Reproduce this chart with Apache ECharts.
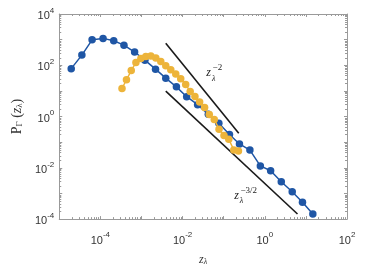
<!DOCTYPE html>
<html><head><meta charset="utf-8">
<script src="https://cdn.jsdelivr.net/npm/echarts@6/dist/echarts.min.js"></script>
<style>html,body{margin:0;padding:0;background:#fff}#c{width:374px;height:271px}</style>
</head><body><div id="c"></div>
<script>
// ---- data (real values, log-log plot) ----
const blueX = [1.954e-5, 3.548e-5, 6.295e-5, 1.164e-4, 2.113e-4, 3.750e-4, 6.808e-4, 1.211e-3, 2.198e-3, 3.899e-3, 7.079e-3, 1.259e-2, 2.323e-2, 4.227e-2, 7.621e-2, 0.1384, 0.2421, 0.4345, 0.7798, 1.387, 2.518, 4.645, 8.260, 14.76];
const blueY = [73.8, 249, 982, 1119, 901, 610, 329, 158, 70.6, 31.5, 14.4, 5.94, 2.91, 1.22, 0.544, 0.200, 0.0855, 0.0491, 0.01189, 0.00771, 0.00288, 0.00117, 4.57e-4, 1.58e-4];
const yellowX = [3.36e-4, 4.32e-4, 5.64e-4, 7.33e-4, 9.68e-4, 1.277e-3, 1.690e-3, 2.234e-3, 2.951e-3, 3.899e-3, 5.164e-3, 6.823e-3, 9.016e-3, 1.191e-2, 1.531e-2, 2.000e-2, 2.600e-2, 3.436e-2, 4.467e-2, 5.902e-2, 7.709e-2, 0.1019, 0.1330, 0.1762, 0.2286];
const yellowY = [12.4, 27.2, 62.0, 129.7, 183.7, 218.8, 228.2, 191.9, 141.6, 95.7, 67.6, 45.7, 29.6, 17.6, 9.57, 6.04, 3.68, 2.24, 1.19, 0.771, 0.323, 0.184, 0.130, 0.0499, 0.0457];
const refMinus2X = [3.899e-3, 0.2328];
const refMinus2Y = [719, 0.2223];
const refMinus32X = [3.899e-3, 6.25];
const refMinus32Y = [9.82, 1.585e-4];
const noteX = [0.0430, 0.2047];
const noteY = [49.9, 8.41e-4];
const noteExp = ['\u22122', '\u22123/2'];
const xMinExp = -5, xMaxExp = 2;
const yMinExp = -4, yMaxExp = 4;
const xLabelExps = [-4, -2, 0, 2];
const yLabelExps = [-4, -2, 0, 2, 4];

const L = Math.log10;
const toPts = (xs, ys) => xs.map((x, i) => [L(x), L(ys[i])]);

const AX = '#9a9a9a', TXT = '#333';
const BLUE = '#1f56a5', YEL = '#edb43a';

function expLabel(list) {
  return v => {
    const e = Math.round(v);
    return list.includes(e) ? '{b|10}{e|' + e + '}' : '';
  };
}
const richLab = {
  b: { fontSize: 11, fontFamily: 'Liberation Sans', color: TXT, lineHeight: 15, verticalAlign: 'bottom' },
  e: { fontSize: 8, fontFamily: 'Liberation Sans', color: TXT, lineHeight: 8, verticalAlign: 'top' }
};

const minorX = [], minorY = [];
for (let d = xMinExp; d < xMaxExp; d++) for (let k = 2; k <= 9; k++) minorX.push([L(k) + d, yMinExp]);
for (let d = yMinExp; d < yMaxExp; d++) for (let k = 2; k <= 9; k++) minorY.push([xMinExp, L(k) + d]);

function tick(x1, y1, x2, y2) {
  return { type: 'line', shape: { x1, y1, x2, y2 }, style: { stroke: AX, lineWidth: 1 } };
}

const axisCommon = {
  type: 'value', splitLine: { show: false },
  axisLine: { show: true, onZero: false, lineStyle: { color: AX, width: 1 } },
  axisTick: { show: true, inside: true, length: 3, lineStyle: { color: AX } }
};

const chart = echarts.init(document.getElementById('c'), null, { renderer: 'canvas' });
const option = {
  animation: false,
  backgroundColor: '#fff',
  grid: { left: 58, right: 27, top: 14, bottom: 45, containLabel: false },
  xAxis: [
    Object.assign({}, axisCommon, {
      min: xMinExp, max: xMaxExp, interval: 1, position: 'bottom',
      axisLabel: { formatter: expLabel(xLabelExps), margin: 12, rich: richLab, color: TXT },
      name: '{i|z}{s|\u03bb}', nameLocation: 'middle', nameGap: 25,
      nameTextStyle: { rich: {
        i: { fontSize: 12, fontStyle: 'italic', fontFamily: 'Liberation Serif', color: TXT, lineHeight: 12, verticalAlign: 'top' },
        s: { fontSize: 8, fontStyle: 'italic', fontFamily: 'Liberation Serif', color: TXT, lineHeight: 8, padding: [7, 0, 0, 0], verticalAlign: 'bottom' }
      } }
    }),
    Object.assign({}, axisCommon, {
      min: xMinExp, max: xMaxExp, interval: 1, position: 'top', axisLabel: { show: false }
    })
  ],
  yAxis: [
    Object.assign({}, axisCommon, {
      min: yMinExp, max: yMaxExp, interval: 1, position: 'left',
      axisLabel: { formatter: expLabel(yLabelExps), margin: 5, rich: richLab, color: TXT },
      name: '{r|P}{s|\u0393}{r| (}{i|z}{s|\u03bb}{r|)}', nameLocation: 'middle', nameGap: 32, nameRotate: 90,
      nameTextStyle: { rich: {
        r: { fontSize: 14, fontFamily: 'Liberation Serif', color: TXT, lineHeight: 14, verticalAlign: 'top' },
        i: { fontSize: 14, fontStyle: 'italic', fontFamily: 'Liberation Serif', color: TXT, lineHeight: 14, verticalAlign: 'top' },
        s: { fontSize: 9, fontFamily: 'Liberation Serif', color: TXT, lineHeight: 9, padding: [7, 0, 0, 0], verticalAlign: 'bottom' }
      } }
    }),
    Object.assign({}, axisCommon, {
      min: yMinExp, max: yMaxExp, interval: 1, position: 'right', axisLabel: { show: false }
    })
  ],
  series: [
    { type: 'custom', silent: true, z: 1, data: minorX, encode: { x: 0, y: 1 },
      renderItem: (p, api) => {
        const v = api.value(0);
        const b = api.coord([v, yMinExp]), t = api.coord([v, yMaxExp]);
        const x = Math.round(b[0]) + 0.5;
        return { type: 'group', children: [tick(x, b[1], x, b[1] - 2), tick(x, t[1], x, t[1] + 2)] };
      } },
    { type: 'custom', silent: true, z: 1, data: minorY, encode: { x: 0, y: 1 },
      renderItem: (p, api) => {
        const v = api.value(1);
        const l = api.coord([xMinExp, v]), r = api.coord([xMaxExp, v]);
        const y = Math.round(l[1]) + 0.5;
        return { type: 'group', children: [tick(l[0], y, l[0] + 2, y), tick(r[0], y, r[0] - 2, y)] };
      } },
    { type: 'line', data: toPts(refMinus2X, refMinus2Y), symbol: 'none', z: 3,
      lineStyle: { color: '#1a1a1a', width: 1.6 } },
    { type: 'line', data: toPts(refMinus32X, refMinus32Y), symbol: 'none', z: 3,
      lineStyle: { color: '#1a1a1a', width: 1.6 } },
    { type: 'line', data: toPts(blueX, blueY), symbol: 'circle', symbolSize: 7.5, z: 4,
      lineStyle: { color: BLUE, width: 1.5 }, itemStyle: { color: BLUE } },
    { type: 'line', data: toPts(yellowX, yellowY), symbol: 'circle', symbolSize: 7.5, z: 5,
      lineStyle: { color: YEL, width: 1.5 }, itemStyle: { color: YEL } }
  ]
};
chart.setOption(option);

const g = [];
noteX.forEach((nx, i) => {
  const p = chart.convertToPixel({ xAxisIndex: 0, yAxisIndex: 0 }, [L(nx), L(noteY[i])]);
  const font = 'italic 12px "Liberation Serif"';
  g.push({ type: 'text', x: p[0], y: p[1], style: { text: 'z', font, fill: '#222', align: 'center', verticalAlign: 'middle' } });
  g.push({ type: 'text', x: p[0] + 5, y: p[1] + 5.5, style: { text: '\u03bb', font: 'italic 8px "Liberation Serif"', fill: '#222', align: 'center', verticalAlign: 'middle' } });
  g.push({ type: 'text', x: p[0] + 4, y: p[1] - 5, style: { text: noteExp[i], font: '9px "Liberation Serif"', fill: '#222', align: 'left', verticalAlign: 'middle' } });
});
chart.setOption({ graphic: g });
</script></body></html>
